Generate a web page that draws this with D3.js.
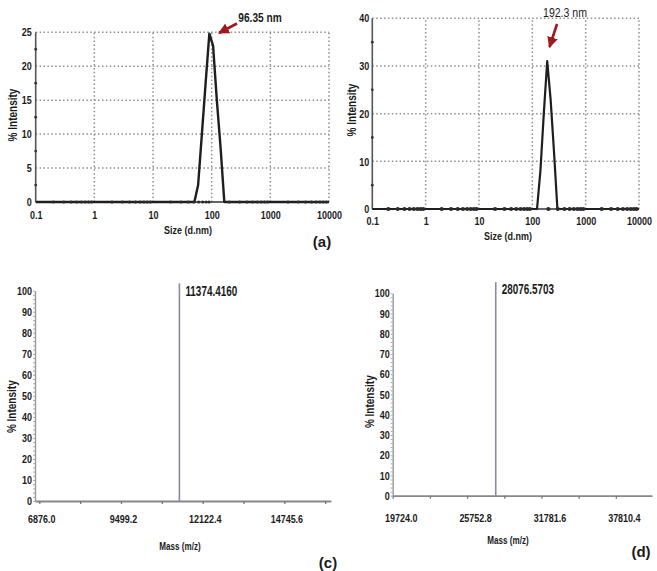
<!DOCTYPE html>
<html><head><meta charset="utf-8">
<script src="https://cdn.jsdelivr.net/npm/d3@7"></script>
<style>
html,body{margin:0;padding:0;background:#fff;}
svg text{font-family:'Liberation Sans Narrow','Arial Narrow','Liberation Sans',Arial,sans-serif;fill:#1a1a1a;}
</style></head>
<body>
<svg id="c" width="657" height="571"></svg>
<script>
// ---- data ----
const sizeTicks = [0.1, 1, 10, 100, 1000, 10000];
const sizeTickLabels = ["0.1", "1", "10", "100", "1000", "10000"];

const sizeA = [0.1, 50.75, 58.77, 68.06, 78.82, 91.28, 105.7, 122.4, 141.8, 164.2, 10000];
const intensityA = [0, 0, 2.5, 10, 17.5, 24.8, 23, 15, 8, 0, 0];
const yTicksA = [0, 5, 10, 15, 20, 25];
const peakLabelA = "96.35 nm";

const sizeB = [0.1, 122.4, 141.8, 164.2, 190.1, 220.2, 255, 295.3, 10000];
const intensityB = [0, 0, 8, 20, 31, 23, 12, 0, 0];
const yTicksB = [0, 10, 20, 30, 40];
const peakLabelB = "192.3 nm";

const massTicksC = [6876.0, 9499.2, 12122.4, 14745.6];
const peakMassC = 11374.4160;
const peakIntensityC = 103.5;
const peakLabelC = "11374.4160";

const massTicksD = [19724.0, 25752.8, 31781.6, 37810.4];
const peakMassD = 28076.5703;
const peakIntensityD = 105.5;
const peakLabelD = "28076.5703";

const pctTicks = [0, 10, 20, 30, 40, 50, 60, 70, 80, 90, 100];

// ---- drawing ----
const svg = d3.select("#c");
const defs = svg.append("defs");
defs.append("marker").attr("id","arr").attr("viewBox","0 0 10 10").attr("refX",9).attr("refY",5)
  .attr("markerWidth",4.2).attr("markerHeight",4.2).attr("orient","auto")
  .append("path").attr("d","M0,0 L10,5 L0,10 z").attr("fill","#9b1b1e");

function styleText(s, size, cond){
  s.attr("font-size",size).attr("font-weight","bold").attr("fill","#1a1a1a").attr("data-c",cond||0.8);
}

function dlsPanel(o){
  const g = svg.append("g");
  const x = d3.scaleLog().domain([0.1,10000]).range(o.xr);
  const y = d3.scaleLinear().domain([0,o.ymax]).range(o.yr);
  // grid
  const grid = g.append("g").attr("stroke","#8f8f8f").attr("stroke-width",1.5).attr("stroke-dasharray","1.5,2.4");
  grid.selectAll("line.v").data(sizeTicks.slice(1)).join("line")
    .attr("x1",d=>x(d)).attr("x2",d=>x(d)).attr("y1",y(0)).attr("y2",y(o.ymax));
  grid.selectAll("line.h").data(o.yTicks.slice(1)).join("line")
    .attr("x1",x(0.1)).attr("x2",x(10000)).attr("y1",d=>y(d)).attr("y2",d=>y(d));
  // axis lines
  g.append("line").attr("x1",x(0.1)).attr("x2",x(0.1)).attr("y1",y(0)).attr("y2",y(o.ymax))
    .attr("stroke","#555").attr("stroke-width",1.6);
  g.append("line").attr("x1",x(0.1)).attr("x2",x(10000)).attr("y1",y(0)).attr("y2",y(0))
    .attr("stroke","#333").attr("stroke-width",1.4);
  // tick labels via d3 axes
  const ax = d3.axisBottom(x).tickValues(sizeTicks).tickFormat((d,i)=>sizeTickLabels[i]).tickSize(0).tickPadding(o.xpad);
  g.append("g").attr("transform",`translate(0,${y(0)})`).call(ax)
    .call(s=>{s.select(".domain").remove(); styleText(s.selectAll("text"),11.5,0.78);});
  const ay = d3.axisLeft(y).tickValues(o.yTicks).tickSize(0).tickPadding(o.ypad);
  g.append("g").attr("transform",`translate(${x(0.1)},0)`).call(ay)
    .call(s=>{s.select(".domain").remove(); styleText(s.selectAll("text"),11.5,0.78);});
  // data line
  const line = d3.line().x(d=>x(d[0])).y(d=>y(d[1]));
  g.append("path").datum(o.sizes.map((s,i)=>[s,o.vals[i]])).attr("d",line)
    .attr("fill","none").attr("stroke","#1e1e1e").attr("stroke-width",o.lw).attr("stroke-linejoin","round");
  // minor dots on axes
  g.selectAll("circle.ym").data(o.yMinor).join("circle")
    .attr("cx",x(0.1)).attr("cy",d=>y(d)).attr("r",1.4).attr("fill","#333");
  const xm=[];
  for(let e=-1;e<4;e++) for(let k=2;k<10;k++) xm.push(k*Math.pow(10,e));
  g.selectAll("circle.xm").data(xm).join("circle")
    .attr("cx",d=>x(d)).attr("cy",y(0)).attr("r",o.dotR).attr("fill","#2a2a2a");
  // titles
  styleText(g.append("text").attr("x",o.xlab[0]).attr("y",o.xlab[1]).attr("text-anchor","middle").text("Size (d.nm)"),11.5,0.78);
  styleText(g.append("text").attr("transform",`translate(${o.ylab[0]},${o.ylab[1]}) rotate(-90)`).attr("text-anchor","middle")
    .attr("dy","0.35em").text("% Intensity"),12.5,0.8);
  // peak annotation
  styleText(g.append("text").attr("class","pk").attr("x",o.pl[0]).attr("y",o.pl[1]).attr("text-anchor","middle").text(o.peakLabel),o.pls,0.78);
  g.append("line").attr("x1",o.ar[0]).attr("y1",o.ar[1]).attr("x2",o.ar[2]).attr("y2",o.ar[3])
    .attr("stroke","#9b1b1e").attr("stroke-width",2.6).attr("marker-end","url(#arr)");
  return g;
}

dlsPanel({xr:[35.7,329], yr:[202,32.3], ymax:25, yTicks:yTicksA, yMinor:[2.5,7.5,12.5,17.5,22.5],
  sizes:sizeA, vals:intensityA, lw:2.4, dotR:1.6, xpad:8.5, ypad:4,
  xlab:[188,234], ylab:[13,115], pl:[260,21.5], pls:13, peakLabel:peakLabelA, ar:[237,23.5,219,33]});
const gb = dlsPanel({xr:[372.3,639], yr:[209,18.3], ymax:40, yTicks:yTicksB, yMinor:[5,15,25,35],
  sizes:sizeB, vals:intensityB, lw:2.2, dotR:2.1, xpad:8.2, ypad:3,
  xlab:[508,239.5], ylab:[352,110], pl:[565,16.5], pls:13.5, peakLabel:peakLabelB, ar:[557,24,549.5,47]});
gb.select("text.pk").attr("font-weight","normal");

function msPanel(o){
  const g = svg.append("g");
  const x = d3.scaleLinear().domain(o.xd).range(o.xr);
  const y = d3.scaleLinear().domain([0,100]).range(o.yr);
  const step = o.ticks[1]-o.ticks[0];
  const xt=[]; for(let v=o.ticks[0]; v<=o.xd[1]; v+=step/2) xt.push(v);
  // x axis
  const ax = d3.axisBottom(x).tickValues(xt).tickSize(3).tickSizeOuter(0).tickFormat("");
  g.append("g").attr("transform",`translate(0,${y(0)})`).call(ax)
    .call(s=>{s.select(".domain").attr("stroke","#888").attr("stroke-width",1.8); s.selectAll(".tick line").attr("stroke","#777").attr("stroke-width",1.3);});
  const axl = d3.axisBottom(x).tickValues(o.ticks).tickSize(0).tickFormat(d3.format(".1f")).tickPadding(o.xpad);
  g.append("g").attr("transform",`translate(0,${y(0)})`).call(axl)
    .call(s=>{s.select(".domain").remove(); styleText(s.selectAll("text").attr("dx",o.ldx),11.5,0.78);});
  // y axis
  const yt = d3.range(0,101,2);
  const ay = d3.axisLeft(y).tickValues(yt).tickSize(2).tickSizeOuter(0).tickFormat("");
  g.append("g").attr("transform",`translate(${o.xr[0]},0)`).call(ay)
    .call(s=>{s.select(".domain").attr("stroke","#999").attr("stroke-width",1.4); s.selectAll(".tick line").attr("stroke","#aaa");});
  const ayl = d3.axisLeft(y).tickValues(pctTicks).tickSize(0).tickPadding(3);
  g.append("g").attr("transform",`translate(${o.xr[0]},0)`).call(ayl)
    .call(s=>{s.select(".domain").remove(); styleText(s.selectAll("text"),11.5,0.78);});
  // peak stick
  g.append("line").attr("x1",x(o.pm)).attr("x2",x(o.pm)).attr("y1",y(0)).attr("y2",y(o.pi))
    .attr("stroke","#8a8aa6").attr("stroke-width",1.6);
  styleText(g.append("text").attr("x",x(o.pm)+6).attr("y",o.plY).text(o.pl),15,0.66);
  styleText(g.append("text").attr("x",o.xlab[0]).attr("y",o.xlab[1]).attr("text-anchor","middle").text("Mass (m/z)"),10.5,0.77);
  styleText(g.append("text").attr("transform",`translate(${o.ylab[0]},${o.ylab[1]}) rotate(-90)`).attr("text-anchor","middle")
    .attr("dy","0.35em").text("% Intensity"),12.5,0.8);
  g.append("text").attr("class","tag").attr("x",o.tag[0]).attr("y",o.tag[1]).attr("text-anchor","middle")
    .attr("font-family","'Open Sans','Liberation Sans',sans-serif").attr("font-size",15).attr("font-weight","bold").text(o.tagText);
}

msPanel({xd:[6738,16242], xr:[35,331], yr:[501,290.7], ticks:massTicksC, pm:peakMassC, pi:peakIntensityC,
  pl:peakLabelC, plY:295.5, xpad:14, ldx:2, xlab:[180,550], ylab:[12,406.7], tag:[328,568], tagText:"(c)"});
msPanel({xd:[19724,40741], xr:[392.7,652], yr:[495.7,293.3], ticks:massTicksD, pm:peakMassD, pi:peakIntensityD,
  pl:peakLabelD, plY:294, xpad:18, ldx:8, xlab:[508,544], ylab:[369.3,401.7], tag:[641,557], tagText:"(d)"});

svg.append("text").attr("class","tag").attr("x",322).attr("y",247).attr("text-anchor","middle")
  .attr("font-family","'Open Sans','Liberation Sans',sans-serif").attr("font-size",15).attr("font-weight","bold").text("(a)");

// condense texts (narrow font look)
svg.selectAll("text[data-c]").each(function(){
  const f = +this.getAttribute("data-c");
  const L = this.getComputedTextLength();
  if (L>0){ this.setAttribute("textLength", (L*f).toFixed(1)); this.setAttribute("lengthAdjust","spacingAndGlyphs"); }
});
</script>
</body></html>
